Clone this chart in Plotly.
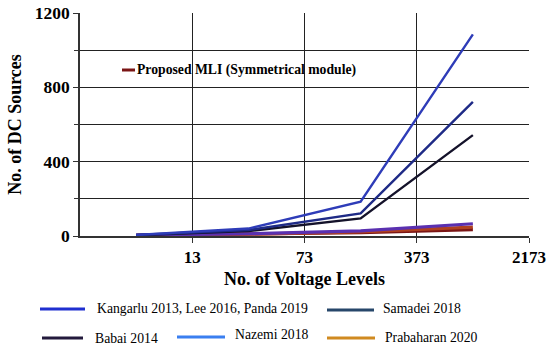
import plotly.graph_objects as go

# tick labels for voltage levels (category boundaries)
level_labels = ["13", "73", "373", "2173"]
# data points sit at the centre of each of the 4 category slots
point_slots = [0, 1, 2, 3]

series_names = [
    "Kangarlu 2013, Lee 2016, Panda 2019",
    "Samadei 2018",
    "Babai 2014",
    "Nazemi 2018",
    "Prabaharan 2020",
    "Proposed MLI (Symmetrical module)",
]
kangarlu = [6, 40, 185, 1085]
samadei = [5, 32, 122, 722]
babai = [4, 26, 95, 543]
nazemi = [5, 12, 28, 66]
prabaharan = [4, 10, 22, 48]
proposed = [3, 9, 18, 34]
values = [kangarlu, samadei, babai, nazemi, prabaharan, proposed]
colors = ["#1f2fd0", "#27476a", "#231a3c", "#3a7ff0", "#d08a20", "#7a1515"]
plot_colors = ["#2e3cb8", "#1e2a86", "#14122a", "#5a30b0", "#b04020", "#7a1515"]

SERIF = "Liberation Serif"

fig = go.Figure()
draw_order = [5, 4, 3, 2, 1, 0]
for i in draw_order:
    fig.add_trace(go.Scatter(
        x=[s + 0.5 for s in point_slots], y=values[i], mode="lines",
        name=series_names[i], showlegend=False,
        line=dict(color=plot_colors[i], width=2.4 if i < 3 else 3.2),
    ))

fig.update_layout(
    width=550, height=351,
    margin=dict(l=80, r=21, t=13, b=115, autoexpand=False),
    paper_bgcolor="white", plot_bgcolor="white",
    font=dict(family=SERIF, color="black"),
    showlegend=False,
)
fig.update_xaxes(
    range=[0, 4], tickvals=[1, 2, 3, 4], ticktext=level_labels,
    showgrid=True, gridcolor="#222", gridwidth=1,
    showline=True, linecolor="#333", linewidth=1.5,
    ticks="outside", ticklen=5, tickcolor="#333",
    tickfont=dict(size=17, family=SERIF, weight="bold"),
    title=dict(text="<b>No. of Voltage Levels</b>", font=dict(size=18, family=SERIF), standoff=6),
    zeroline=False, automargin=False,
)
fig.update_yaxes(
    range=[0, 1200], tickvals=[0, 400, 800, 1200],
    showgrid=True, gridcolor="#222", gridwidth=1,
    minor=dict(tickvals=[200, 600, 1000], showgrid=True, gridcolor="#222", gridwidth=1, ticks="outside", ticklen=4, tickcolor="#333"),
    showline=True, linecolor="#333", linewidth=1.5, mirror=False,
    ticks="outside", ticklen=5, tickcolor="#333",
    tickfont=dict(size=17.5, family=SERIF, weight="bold"),
    title=dict(text="<b>No. of DC Sources</b>", font=dict(size=18, family=SERIF), standoff=8),
    zeroline=False, automargin=False,
)

# inside legend for proposed
fig.add_shape(type="line", xref="paper", yref="paper",
              x0=(122 - 80) / 449, x1=(135 - 80) / 449, y0=(236 - 70) / 223, y1=(236 - 70) / 223,
              line=dict(color=colors[5], width=3))
fig.add_annotation(xref="paper", yref="paper", x=(135 - 80) / 449, y=(236 - 70) / 223,
                   xanchor="left", yanchor="middle", showarrow=False,
                   text="<b>" + series_names[5] + "</b>", font=dict(size=13.7, family=SERIF, color="black"))

# bottom legend (pixel layout relative to reference): idx, line x0, line x1, line y, text x, text y
legend_items = [
    (0, 40, 85, 309, 97, 308),
    (1, 327, 374, 310, 383, 308),
    (2, 42, 83, 338, 95, 338),
    (3, 177, 225, 337, 235, 334),
    (4, 327, 375, 338, 385, 337),
]
for idx, x0, x1, ly, tx, ty in legend_items:
    fig.add_shape(type="line", xref="paper", yref="paper",
                  x0=(x0 - 80) / 449, x1=(x1 - 80) / 449,
                  y0=(236 - ly) / 223, y1=(236 - ly) / 223,
                  line=dict(color=colors[idx], width=3))
    fig.add_annotation(xref="paper", yref="paper", x=(tx - 80) / 449, y=(236 - ty) / 223,
                       xanchor="left", yanchor="middle", showarrow=False, xshift=-2,
                       text=series_names[idx], font=dict(size=13.7, family=SERIF, color="black"))

fig.write_html("out.html", config={"displayModeBar": False},
               post_script="document.body.style.margin='0';")
